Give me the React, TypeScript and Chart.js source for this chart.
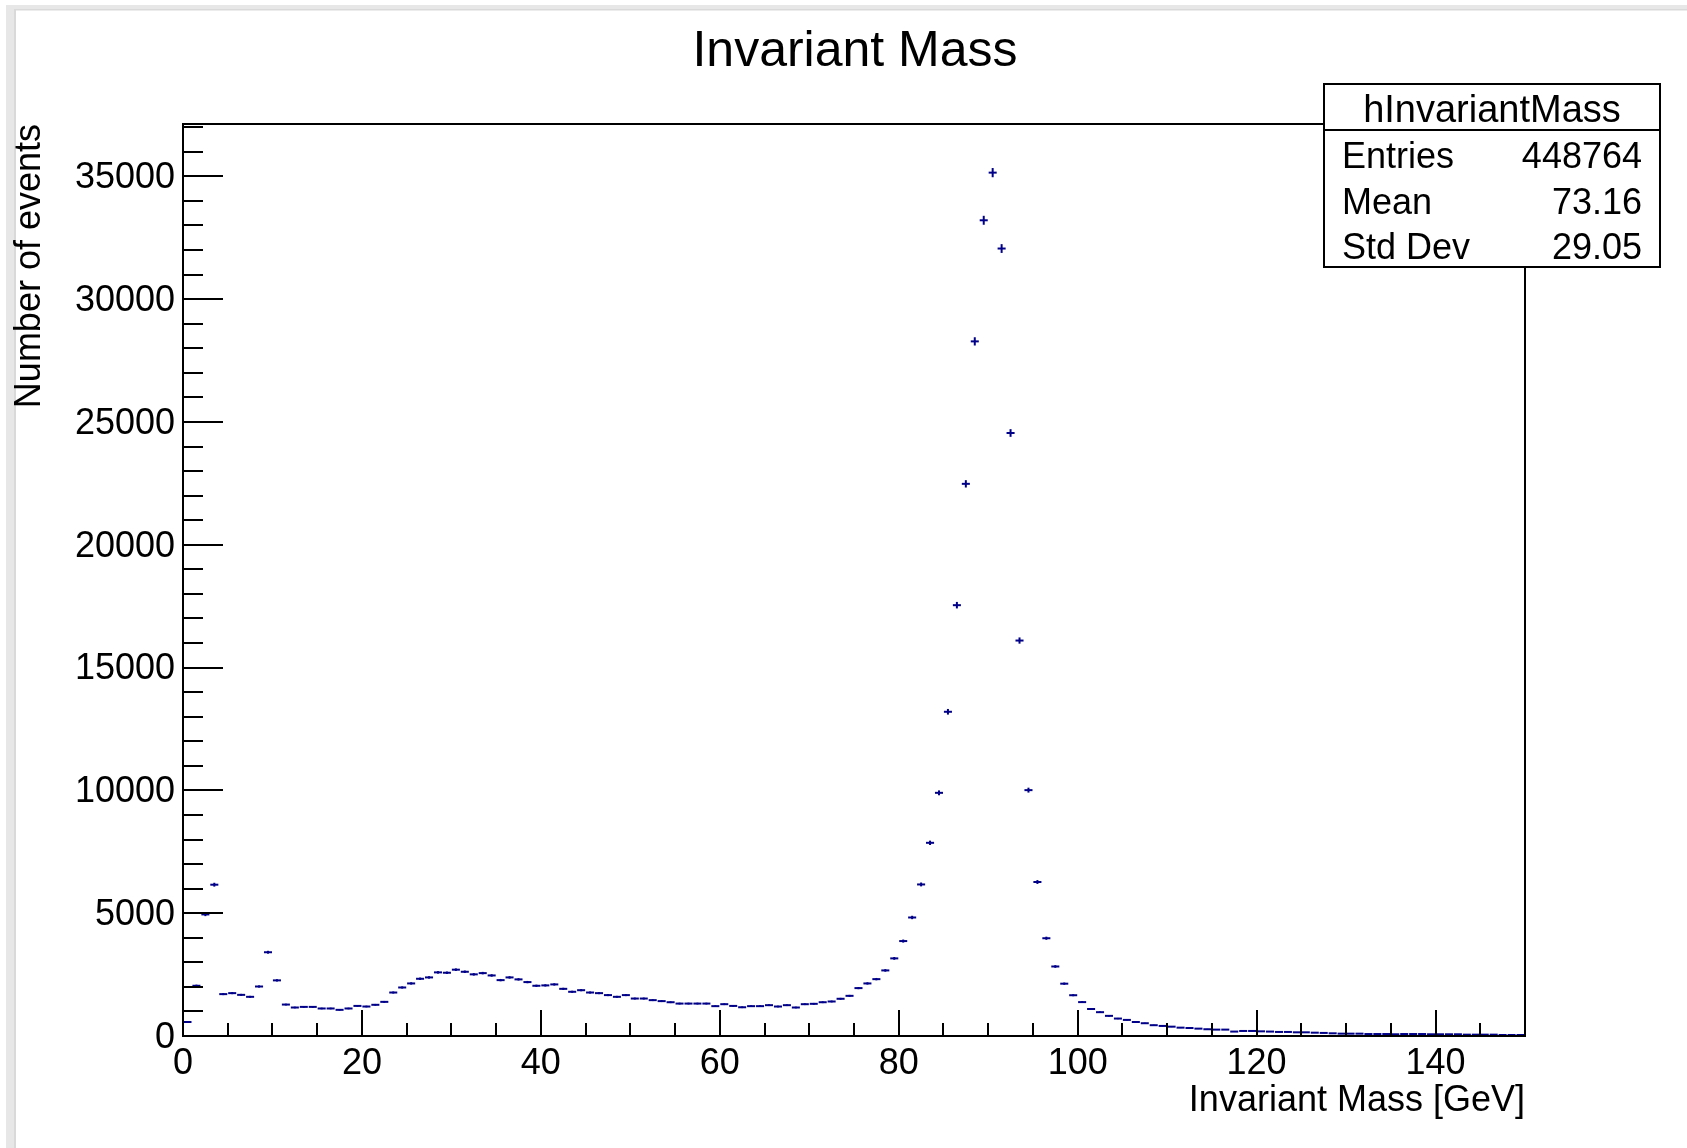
import React, { useEffect, useRef } from 'react';
import { Chart, registerables } from 'chart.js';

Chart.register(...registerables);

// ---- data ----
const histName = 'hInvariantMass';
const chartTitle = 'Invariant Mass';
const xAxisTitle = 'Invariant Mass [GeV]';
const yAxisTitle = 'Number of events';
const xMin = 0;
const xMax = 150;
const binWidth = 1;
const yMin = 0;
const yMax = 37130;

const counts = [
  570, 2045, 4950, 6160, 1705, 1745, 1675, 1595, 2015, 3410,
  2265, 1280, 1160, 1185, 1185, 1120, 1120, 1065, 1120, 1225,
  1200, 1270, 1390, 1770, 1975, 2140, 2330, 2385, 2590, 2575,
  2700, 2615, 2510, 2560, 2465, 2275, 2385, 2305, 2195, 2045,
  2060, 2100, 1920, 1800, 1865, 1770, 1745, 1665, 1595, 1665,
  1525, 1525, 1460, 1420, 1375, 1320, 1320, 1320, 1320, 1215,
  1295, 1225, 1170, 1215, 1215, 1255, 1200, 1255, 1160, 1295,
  1310, 1375, 1405, 1515, 1635, 1950, 2140, 2315, 2670, 3160,
  3865, 4825, 6170, 7865, 9900, 13200, 17540, 22480, 28280, 33210,
  35150, 32060, 24550, 16100, 10010, 6270, 3980, 2830, 2130, 1660,
  1380, 1100, 970, 820, 710, 655, 570, 520, 440, 410,
  380, 340, 325, 300, 275, 260, 260, 180, 205, 205,
  190, 180, 165, 165, 150, 150, 135, 125, 110, 95,
  95, 95, 80, 80, 80, 70, 80, 80, 80, 70,
  70, 70, 70, 55, 55, 55, 55, 40, 40, 40,
];

const xTickValues = [0, 20, 40, 60, 80, 100, 120, 140];
const yTickValues = [0, 5000, 10000, 15000, 20000, 25000, 30000, 35000];
const xMinorStep = 5;
const yMinorStep = 1000;
const statsLabels = ['Entries', 'Mean', 'Std Dev'];
const statsValues = ['448764', '73.16', '29.05'];

// ---- styling ----
const FONT = '"Liberation Sans", Arial, Helvetica, sans-serif';
const MARKER = '#000088';
const W = 1687;
const H = 1148;
const AREA = { left: 183, right: 1525, top: 124, bottom: 1036 };

const rootDecor = {
  id: 'rootDecor',
  beforeDraw(chart: any) {
    const ctx = chart.ctx;
    ctx.save();
    ctx.fillStyle = '#ffffff';
    ctx.fillRect(0, 0, W, H);
    // window frame strips
    ctx.fillStyle = '#e7e7e7';
    ctx.fillRect(6, 5, W - 6, 5);
    ctx.fillRect(6, 5, 10, H - 5);
    ctx.fillStyle = '#d9d9d9';
    ctx.fillRect(16, 9, W - 16, 1.5);
    ctx.fillRect(14, 9, 2, H - 9);
    ctx.restore();
  },
  afterDraw(chart: any) {
    const ctx = chart.ctx;
    const a = chart.chartArea;
    const xs = chart.scales.x;
    const ys = chart.scales.y;
    ctx.save();
    ctx.strokeStyle = '#000';
    ctx.lineWidth = 2;
    // frame
    ctx.strokeRect(a.left, a.top, a.right - a.left, a.bottom - a.top);
    // y ticks (inside)
    ctx.beginPath();
    for (let k = 0; k * yMinorStep <= yMax; k++) {
      const v = k * yMinorStep;
      const py = Math.round(ys.getPixelForValue(v));
      const len = v % 5000 === 0 ? 40 : 20;
      ctx.moveTo(a.left, py);
      ctx.lineTo(a.left + len, py);
    }
    // x ticks (inside)
    for (let k = 0; k * xMinorStep <= xMax; k++) {
      const v = k * xMinorStep;
      const px = Math.round(xs.getPixelForValue(v));
      const len = v % 20 === 0 ? 26 : 13;
      ctx.moveTo(px, a.bottom);
      ctx.lineTo(px, a.bottom - len);
    }
    ctx.stroke();

    ctx.fillStyle = '#000';
    // title
    ctx.font = `50px ${FONT}`;
    ctx.textAlign = 'center';
    ctx.textBaseline = 'alphabetic';
    ctx.fillText(chartTitle, 855, 66);

    // x axis title
    ctx.font = `36px ${FONT}`;
    ctx.textAlign = 'right';
    ctx.fillText(xAxisTitle, a.right, 1111);

    // y axis title
    ctx.save();
    ctx.translate(40, a.top);
    ctx.rotate(-Math.PI / 2);
    ctx.textAlign = 'right';
    ctx.fillText(yAxisTitle, 0, 0);
    ctx.restore();

    // stats box
    const bx = 1324, by = 84, bw = 336, bh = 183;
    ctx.fillStyle = '#fff';
    ctx.fillRect(bx, by, bw, bh);
    ctx.strokeStyle = '#000';
    ctx.lineWidth = 2;
    ctx.strokeRect(bx, by, bw, bh);
    ctx.beginPath();
    ctx.moveTo(bx, 130);
    ctx.lineTo(bx + bw, 130);
    ctx.stroke();
    ctx.fillStyle = '#000';
    ctx.font = `38px ${FONT}`;
    ctx.textAlign = 'center';
    ctx.fillText(histName, bx + bw / 2, 122);
    ctx.font = `36px ${FONT}`;
    const rowBase = [168, 213.5, 259];
    statsLabels.forEach((lab, i) => {
      ctx.textAlign = 'left';
      ctx.fillText(lab, 1342, rowBase[i]);
      ctx.textAlign = 'right';
      ctx.fillText(statsValues[i], 1642, rowBase[i]);
    });
    ctx.restore();
  },
};

export default function App() {
  const canvasRef = useRef<HTMLCanvasElement | null>(null);

  useEffect(() => {
    const canvas = canvasRef.current;
    if (!canvas) return;
    const points = counts.map((c, i) => ({ x: xMin + (i + 0.5) * binWidth, y: c }));

    const chart = new Chart(canvas, {
      type: 'scatter',
      data: {
        datasets: [
          {
            label: 'bins',
            data: points,
            pointStyle: 'line',
            borderColor: MARKER,
            backgroundColor: MARKER,
            borderWidth: 2,
            pointBorderWidth: 2,
            pointRadius: (ctx: any) => {
              const s = ctx.chart.scales.x;
              if (!s) return 4;
              return Math.abs(s.getPixelForValue(binWidth * 0.45) - s.getPixelForValue(0));
            },
          } as any,
          {
            label: 'errors',
            data: points,
            pointStyle: 'line',
            rotation: 90,
            borderColor: MARKER,
            backgroundColor: MARKER,
            borderWidth: 2,
            pointBorderWidth: 2,
            pointRadius: (ctx: any) => {
              const raw = ctx.raw;
              const s = ctx.chart.scales.y;
              if (!raw || !s) return 0;
              return Math.abs(s.getPixelForValue(raw.y) - s.getPixelForValue(raw.y + Math.sqrt(raw.y)));
            },
          } as any,
        ],
      },
      options: {
        animation: false,
        responsive: false,
        devicePixelRatio: 1,
        events: [],
        layout: {
          padding: { top: AREA.top, left: 0, right: W - AREA.right, bottom: 0 },
        },
        plugins: {
          legend: { display: false },
          tooltip: { enabled: false },
          title: { display: false },
        },
        scales: {
          x: {
            type: 'linear',
            min: xMin,
            max: xMax,
            grid: { display: false, drawTicks: false },
            border: { display: false },
            ticks: {
              font: { family: FONT, size: 36 },
              color: '#000',
              padding: 6,
              maxRotation: 0,
              autoSkip: false,
            },
            afterBuildTicks: (scale: any) => {
              scale.ticks = xTickValues.map((v) => ({ value: v }));
            },
            afterFit: (scale: any) => {
              scale.height = H - AREA.bottom;
            },
          },
          y: {
            type: 'linear',
            min: yMin,
            max: yMax,
            grid: { display: false, drawTicks: false },
            border: { display: false },
            ticks: {
              font: { family: FONT, size: 36 },
              color: '#000',
              padding: 8,
              labelOffset: 2,
              autoSkip: false,
              callback: (v: any) => String(v),
            },
            afterBuildTicks: (scale: any) => {
              scale.ticks = yTickValues.map((v) => ({ value: v }));
            },
            afterFit: (scale: any) => {
              scale.width = AREA.left;
            },
          },
        },
      },
      plugins: [rootDecor],
    } as any);

    return () => chart.destroy();
  }, []);

  return (
    <div style={{ position: 'fixed', left: 0, top: 0, width: W, height: H, background: '#fff' }}>
      <canvas ref={canvasRef} width={W} height={H} style={{ display: 'block', width: W, height: H }} />
    </div>
  );
}
